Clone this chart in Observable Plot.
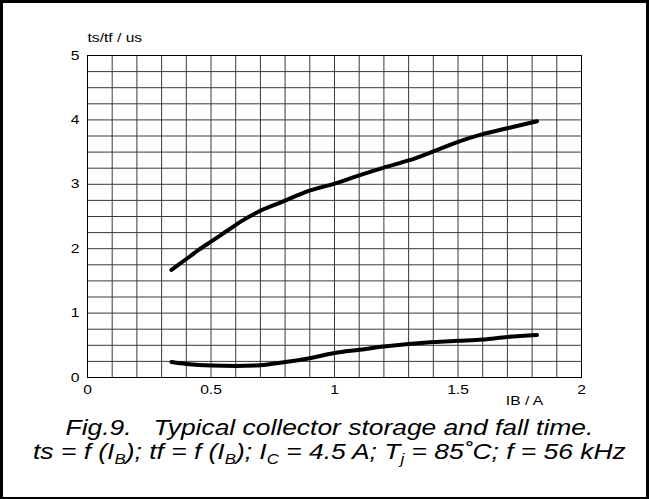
<!DOCTYPE html>
<html>
<head>
<meta charset="utf-8">
<script src="https://cdn.jsdelivr.net/npm/d3@7"></script>
<script src="https://cdn.jsdelivr.net/npm/@observablehq/plot@0.6"></script>
<style>
  body { margin: 0; background: #fff; }
  #wrap { position: relative; width: 649px; height: 499px; overflow: hidden; font-family: "Liberation Sans", Arial, sans-serif; color: #000; }
  #frame { position: absolute; left: 0; top: 0; width: 649px; height: 499px; box-sizing: border-box; border-style: solid; border-color: #000; border-width: 3px 3px 2px 3px; pointer-events: none; }
  .cap { position: absolute; left: 5px; width: 649px; text-align: center; font-style: italic; font-size: 22px; line-height: 22px; white-space: pre; transform: scaleX(1.2); transform-origin: 325px 0; }
  .sub { font-size: 14px; position: relative; top: 5px; }
</style>
</head>
<body>
<div id="wrap">
  <div id="chart"></div>
  <div class="cap" id="l1" style="top:417px"></div>
  <div class="cap" id="l2" style="top:441px"></div>
  <div id="frame"></div>
</div>
<script>
// ---- data ----
const tsIB = [0.34, 0.40, 0.45, 0.50, 0.57, 0.62, 0.69, 0.79, 0.89, 1.00, 1.10, 1.20, 1.30, 1.40, 1.50, 1.60, 1.70, 1.82];
const tsVal = [1.67, 1.84, 1.98, 2.11, 2.29, 2.42, 2.57, 2.73, 2.89, 3.01, 3.14, 3.26, 3.37, 3.51, 3.66, 3.78, 3.87, 3.98];
const tfIB = [0.34, 0.40, 0.50, 0.60, 0.70, 0.80, 0.90, 1.00, 1.10, 1.20, 1.30, 1.40, 1.50, 1.60, 1.70, 1.82];
const tfVal = [0.24, 0.21, 0.185, 0.18, 0.19, 0.24, 0.30, 0.38, 0.43, 0.48, 0.52, 0.55, 0.57, 0.59, 0.63, 0.66];
const xTicks = [0, 0.5, 1, 1.5, 2];
const yTicks = [0, 1, 2, 3, 4, 5];
const xGrid = d3.range(0, 21).map(i => i / 10);
const yGrid = d3.range(0, 21).map(i => i / 4);
const yLabel = "ts/tf / us";
const xLabel = "IB / A";
const caption1 = "Fig.9.   Typical collector storage and fall time.";
const caption2 = 'ts = f (I<span class="sub">B</span>); tf = f (I<span class="sub">B</span>); I<span class="sub">C</span> = 4.5 A; T<span class="sub">j</span> = 85˚C; f = 56 kHz';

const ts = tsIB.map((ib, i) => ({ib, t: tsVal[i]}));
const tf = tfIB.map((ib, i) => ({ib, t: tfVal[i]}));

const chart = Plot.plot({
  width: 649,
  height: 410,
  marginLeft: 87,
  marginRight: 68,
  marginTop: 55,
  marginBottom: 33,
  style: {fontFamily: "'Liberation Sans', Arial, sans-serif", fontSize: "13px", color: "#000", background: "transparent"},
  x: {domain: [0, 2], ticks: xTicks, tickFormat: d => String(d), tickSize: 0, tickPadding: 7, label: null},
  y: {domain: [0, 5], ticks: yTicks, tickFormat: d => String(d), tickSize: 0, tickPadding: 8, label: null},
  marks: [
    Plot.ruleX(xGrid, {stroke: "#3a3a3a", strokeWidth: 1}),
    Plot.ruleY(yGrid, {stroke: "#3a3a3a", strokeWidth: 1}),
    Plot.frame({stroke: "#000"}),
    Plot.line(ts, {x: "ib", y: "t", stroke: "#000", strokeWidth: 4, curve: "monotone-x"}),
    Plot.line(tf, {x: "ib", y: "t", stroke: "#000", strokeWidth: 4, curve: "monotone-x"}),
    Plot.text([yLabel], {text: d => d, frameAnchor: "top-left", dy: -18, textAnchor: "start", lineAnchor: "middle", fontSize: 13, fill: "#000"}),
    Plot.text([xLabel], {text: d => d, frameAnchor: "bottom-right", dx: -57, dy: 23, textAnchor: "middle", lineAnchor: "middle", fontSize: 13, fill: "#000"})
  ]
});
document.getElementById("chart").appendChild(chart);

// widen glyphs horizontally like the reference
d3.select(chart).selectAll("text").each(function () {
  const len = this.getComputedTextLength();
  if (len > 0) {
    this.setAttribute("textLength", (len * 1.2).toFixed(1));
    this.setAttribute("lengthAdjust", "spacingAndGlyphs");
  }
});

document.getElementById("l1").textContent = caption1;
document.getElementById("l2").innerHTML = caption2;
</script>
</body>
</html>
